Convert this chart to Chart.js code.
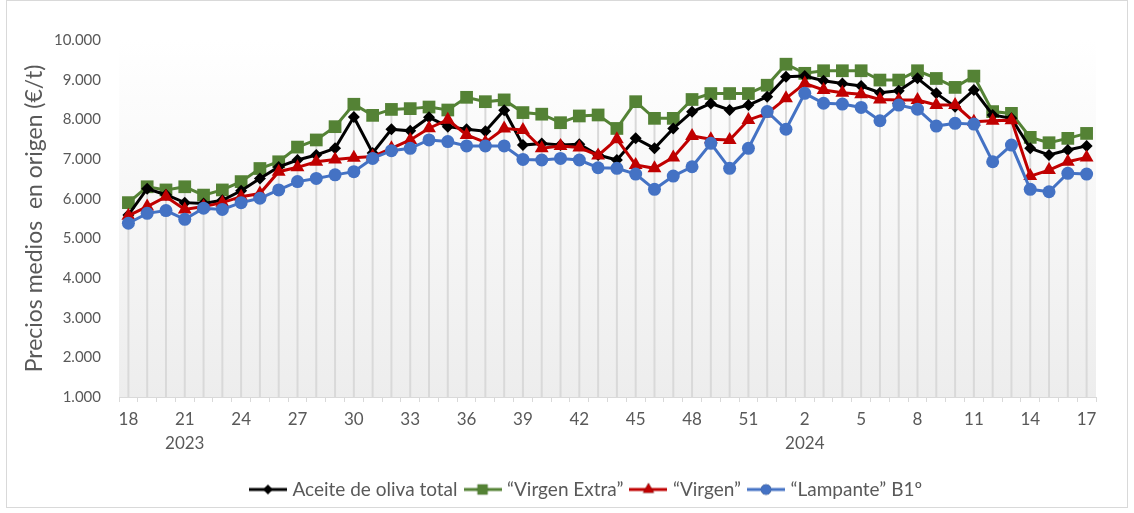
<!DOCTYPE html>
<html lang="es">
<head>
<meta charset="utf-8">
<script src="https://cdn.jsdelivr.net/npm/chart.js@4.4.1/dist/chart.umd.min.js"></script>
<style>
  html, body { margin: 0; padding: 0; background: #ffffff; }
  #caja { position: relative; width: 1134px; height: 513px; }
</style>
</head>
<body>
<div id="caja"><canvas id="grafico" width="1134" height="513"></canvas></div>
<script>
// Semanas (18/2023 a 17/2024)
const semanas = ['18','19','20','21','22','23','24','25','26','27','28','29','30','31','32','33','34','35','36','37','38','39','40','41','42','43','44','45','46','47','48','49','50','51','52',
  '1','2','3','4','5','6','7','8','9','10','11','12','13','14','15','16','17']
const anos = { 3: '2023', 36: '2024' }

// Precios medios en origen (€/t)
const aceiteTotal = [5590, 6250, 6100, 5900, 5880, 5960, 6200, 6510, 6800, 6975, 7100, 7270, 8060, 7150, 7750, 7710, 8050, 7815, 7750, 7700, 8230, 7350, 7390, 7350, 7370, 7100,
  6975, 7520, 7270, 7770, 8190, 8400, 8235, 8360, 8570, 9075, 9090, 8975, 8905, 8840, 8670, 8720, 9035, 8655, 8320, 8740, 8110, 8025, 7270, 7100, 7225, 7330]
const virgenExtra = [5900, 6300, 6220, 6300, 6090, 6220, 6430, 6760, 6930, 7300, 7480, 7815, 8380, 8100, 8250, 8270, 8310, 8235, 8555, 8445, 8490, 8170, 8130, 7915, 8085, 8110,
  7770, 8445, 8025, 8025, 8500, 8650, 8650, 8650, 8860, 9390, 9160, 9225, 9225, 9225, 8990, 8990, 9225, 9030, 8805, 9090, 8195, 8150, 7545, 7410, 7520, 7645]
const virgen = [5570, 5800, 6050, 5730, 5800, 5900, 6050, 6130, 6680, 6790, 6930, 6985, 7030, 7060, 7270, 7480, 7775, 7990, 7605, 7420, 7770, 7730, 7270, 7330, 7290, 7090,
  7500, 6850, 6765, 7040, 7580, 7500, 7480, 7985, 8150, 8530, 8905, 8740, 8670, 8630, 8500, 8490, 8485, 8360, 8360, 7940, 7965, 7980, 6570, 6720, 6930, 7040]
const lampante = [5380, 5630, 5700, 5480, 5760, 5730, 5900, 6010, 6220, 6430, 6510, 6600, 6680, 7015, 7210, 7270, 7480, 7440, 7330, 7330, 7330, 6990, 6975, 7015, 6975, 6780,
  6765, 6620, 6235, 6570, 6805, 7395, 6765, 7270, 8195, 7750, 8655, 8405, 8385, 8300, 7965, 8360, 8255, 7830, 7900, 7880, 6930, 7350, 6235, 6175, 6640, 6620]

const nombres = ['Aceite de oliva total', '\u201cVirgen Extra\u201d', '\u201cVirgen\u201d', '\u201cLampante\u201d B1\u00ba']
const colores = ['#000000', '#548235', '#C00000', '#4472C4']
const marcadores = ['rectRot', 'rect', 'triangle', 'circle']
const radios = [6, 9, 8, 6.5]
const textoGris = '#595959'
const fuente = 'Lato, "Open Sans", sans-serif'

function formatoMiles (v) {
  return String(v).replace(/\B(?=(\d{3})+(?!\d))/g, '.')
}

// Icono de leyenda: linea con marcador en el centro
function iconoLeyenda (i) {
  const c = document.createElement('canvas')
  c.width = 38
  c.height = 16
  const g = c.getContext('2d')
  g.strokeStyle = colores[i]
  g.lineWidth = 3
  g.beginPath()
  g.moveTo(0, 8)
  g.lineTo(38, 8)
  g.stroke()
  Chart.helpers.drawPoint(g, { pointStyle: marcadores[i], radius: radios[i] * 0.8, borderWidth: 0 }, 19, 8)
  g.fillStyle = colores[i]
  g.fill()
  return c
}

// Fondo degradado del area de trazado
const fondoDegradado = {
  id: 'fondoDegradado',
  afterLayout (chart) {
    // la leyenda del original esta algo desplazada a la derecha
    chart.legend.left += 31
    chart.legend.right += 31
  },
  beforeDraw (chart) {
    const { ctx, chartArea } = chart
    const grad = ctx.createLinearGradient(0, chartArea.top, 0, chartArea.bottom)
    grad.addColorStop(0, '#ffffff')
    grad.addColorStop(1, '#ededed')
    ctx.save()
    ctx.fillStyle = grad
    ctx.fillRect(chartArea.left, chartArea.top, chartArea.right - chartArea.left, chartArea.bottom - chartArea.top)
    ctx.strokeStyle = '#d9d9d9'
    ctx.lineWidth = 1
    ctx.strokeRect(6.5, 0.5, chart.width - 13, chart.height - 6)
    ctx.restore()
  }
}

// Lineas de proyeccion desde el punto mas alto hasta el eje
const lineasProyeccion = {
  id: 'lineasProyeccion',
  beforeDatasetsDraw (chart) {
    const { ctx, chartArea } = chart
    const n = chart.data.labels.length
    ctx.save()
    ctx.strokeStyle = '#d9d9d9'
    ctx.lineWidth = 2
    for (let i = 0; i < n; i++) {
      let arriba = chartArea.bottom
      let x = null
      chart.data.datasets.forEach((ds, d) => {
        const p = chart.getDatasetMeta(d).data[i]
        if (p) {
          arriba = Math.min(arriba, p.y)
          x = p.x
        }
      })
      if (x === null) continue
      ctx.beginPath()
      ctx.moveTo(x, arriba)
      ctx.lineTo(x, chartArea.bottom)
      ctx.stroke()
    }
    ctx.restore()
  }
}

const series = [aceiteTotal, virgenExtra, virgen, lampante]
const ordenDibujo = [3, 4, 2, 1]

const ctx = document.getElementById('grafico')
new Chart(ctx, {
  type: 'line',
  data: {
    labels: semanas,
    datasets: series.map((datos, i) => ({
      label: nombres[i],
      data: datos,
      borderColor: colores[i],
      backgroundColor: colores[i],
      borderWidth: 3,
      pointStyle: marcadores[i],
      pointRadius: radios[i],
      pointBorderWidth: 0,
      pointHoverRadius: radios[i],
      tension: 0,
      order: ordenDibujo[i]
    }))
  },
  options: {
    responsive: false,
    animation: false,
    layout: { padding: { left: 17, right: 38, top: 40, bottom: 4 } },
    plugins: {
      tooltip: { enabled: false },
      legend: {
        position: 'bottom',
        labels: {
          usePointStyle: true,
          pointStyleWidth: 30,
          padding: 10,
          color: textoGris,
          font: { family: fuente, size: 19 },
          generateLabels (chart) {
            return chart.data.datasets.map((ds, i) => ({
              text: ds.label,
              pointStyle: iconoLeyenda(i),
              fillStyle: colores[i],
              strokeStyle: colores[i],
              lineWidth: 0,
              fontColor: textoGris,
              datasetIndex: i,
              hidden: false
            }))
          }
        }
      }
    },
    scales: {
      x: {
        offset: true,
        grid: { display: true, drawOnChartArea: false, drawTicks: true, tickLength: 5, color: '#d9d9d9', offset: true },
        border: { display: true, color: '#d9d9d9' },
        ticks: {
          autoSkip: false,
          maxRotation: 0,
          color: textoGris,
          padding: 5,
          font: { family: fuente, size: 17, lineHeight: 1.45 },
          callback (valor, indice) {
            if (indice % 3 !== 0) return ''
            if (anos[indice]) return [semanas[indice], anos[indice]]
            return semanas[indice]
          }
        },
        afterFit (escala) { escala.height = 73 }
      },
      y: {
        min: 1000,
        max: 10000,
        grid: { display: false },
        border: { display: false },
        ticks: {
          stepSize: 1000,
          color: textoGris,
          padding: 10,
          font: { family: fuente, size: 15 },
          callback: (v) => formatoMiles(v)
        },
        title: {
          display: true,
          text: 'Precios medios  en origen (\u20ac/t)',
          color: textoGris,
          font: { family: fuente, size: 23 }
        },
        afterFit (escala) { escala.width = 102 }
      }
    }
  },
  plugins: [fondoDegradado, lineasProyeccion]
})
</script>
</body>
</html>
